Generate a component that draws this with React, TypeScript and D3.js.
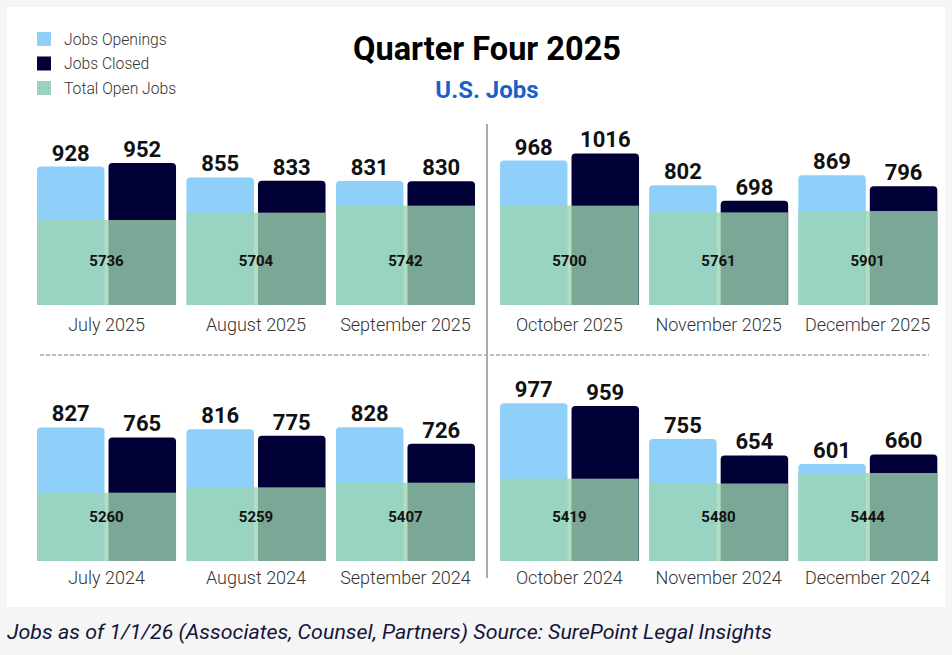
import React from "react";
import * as d3 from "d3";

// Quarter Four 2025 (top row) vs same months 2024 (bottom row)
const months2025 = ["July 2025", "August 2025", "September 2025", "October 2025", "November 2025", "December 2025"];
const openings2025 = [928, 855, 831, 968, 802, 869];
const closed2025 = [952, 833, 830, 1016, 698, 796];
const totalOpen2025 = [5736, 5704, 5742, 5700, 5761, 5901];
// height of the green "Total Open Jobs" band, in bar units (not to scale with its label)
const band2025 = [570, 619, 666, 666, 621, 630];

const months2024 = ["July 2024", "August 2024", "September 2024", "October 2024", "November 2024", "December 2024"];
const openings2024 = [827, 816, 828, 977, 755, 601];
const closed2024 = [765, 775, 726, 959, 654, 660];
const totalOpen2024 = [5260, 5259, 5407, 5419, 5480, 5444];
const band2024 = [423, 456, 485, 510, 480, 545];

const legendItems = ["Jobs Openings", "Jobs Closed", "Total Open Jobs"];

const W = 952;
const H = 655;
const FONT = "Roboto, 'Noto Sans', sans-serif";
const C_OPEN = "#8ed0fa";
const C_CLOSED = "#000036";
const C_GREEN = "#9cd4b2";
const C_LEGEND_GREEN = "#9ad3c0";

const xLeft = d3.scaleBand<number>().domain([0, 1, 2]).range([37, 475]).paddingInner(0.07);
const xRight = d3.scaleBand<number>().domain([3, 4, 5]).range([500, 937]).paddingInner(0.07);
const inner = d3
  .scaleBand<string>()
  .domain(["open", "closed"])
  .range([0, xLeft.bandwidth()])
  .paddingInner(0.056);

function topRounded(x: number, y: number, w: number, h: number, r: number) {
  const rr = Math.min(r, h, w / 2);
  return `M${x},${y + h}V${y + rr}Q${x},${y} ${x + rr},${y}H${x + w - rr}Q${x + w},${y} ${x + w},${y + rr}V${y + h}Z`;
}

function Row({ months, openings, closed, totals, band, base, k, labelY }: any) {
  const y = d3.scaleLinear().domain([0, 1000]).range([base, base - 1000 * k]);
  return (
    <g>
      {months.map((m: string, i: number) => {
        const x = i < 3 ? xLeft : xRight;
        const gx = x(i) as number;
        const bw = inner.bandwidth();
        const ox = gx + (inner("open") as number);
        const cx = gx + (inner("closed") as number);
        const mid = gx + x.bandwidth() / 2;
        return (
          <g key={m}>
            <path d={topRounded(ox, y(openings[i]), bw, base - y(openings[i]), 4)} fill={C_OPEN} />
            <path d={topRounded(cx, y(closed[i]), bw, base - y(closed[i]), 4)} fill={C_CLOSED} />
            <rect
              x={gx}
              y={y(band[i])}
              width={x.bandwidth()}
              height={base - y(band[i])}
              fill={C_GREEN}
              fillOpacity={0.79}
            />
            <text x={ox + bw / 2} y={y(openings[i]) - 6} textAnchor="middle" fontSize={22} fontWeight={700} fill="#111">
              {openings[i]}
            </text>
            <text x={cx + bw / 2} y={y(closed[i]) - 6} textAnchor="middle" fontSize={22} fontWeight={700} fill="#111">
              {closed[i]}
            </text>
            <text x={mid} y={base - 39} textAnchor="middle" fontSize={15} fontWeight={700} fill="#111">
              {totals[i]}
            </text>
            <text x={mid} y={labelY} textAnchor="middle" fontSize={18} fontWeight={300} fill="#333">
              {m}
            </text>
          </g>
        );
      })}
    </g>
  );
}

export default function App() {
  return (
    <svg
      width={W}
      height={H}
      style={{ position: "absolute", left: 0, top: 0, fontFamily: FONT }}
    >
      <rect x={0} y={0} width={W} height={H} fill="#f5f5f5" />
      <rect x={7} y={7} width={938} height={600} fill="#ffffff" />

      {legendItems.map((d, i) => (
        <g key={d} transform={`translate(37,${32 + i * 24.5})`}>
          <rect width={14} height={14} fill={[C_OPEN, C_CLOSED, C_LEGEND_GREEN][i]} />
          <text x={27} y={12.5} fontSize={15.7} fontWeight={300} fill="#333">
            {d}
          </text>
        </g>
      ))}

      <text x={487} y={60} textAnchor="middle" fontSize={32.5} fontWeight={700} fill="#000">
        Quarter Four 2025
      </text>
      <text x={487} y={98} textAnchor="middle" fontSize={24} fontWeight={700} fill="#1c5fcb">
        U.S. Jobs
      </text>

      <line x1={487} x2={487} y1={124} y2={578} stroke="#aaa" strokeWidth={2} />
      <line x1={40} x2={929} y1={355} y2={355} stroke="#aaa" strokeWidth={1.5} strokeDasharray="4 2" />

      <Row
        months={months2025}
        openings={openings2025}
        closed={closed2025}
        totals={totalOpen2025}
        band={band2025}
        base={305}
        k={0.1492}
        labelY={331}
      />
      <Row
        months={months2024}
        openings={openings2024}
        closed={closed2024}
        totals={totalOpen2024}
        band={band2024}
        base={561}
        k={0.1615}
        labelY={584}
      />

      <text
        x={7}
        y={639}
        fontSize={19.5}
        fontStyle="italic"
        fill="#14143a"
        textLength={765}
        lengthAdjust="spacingAndGlyphs"
      >
        Jobs as of 1/1/26 (Associates, Counsel, Partners) Source: SurePoint Legal Insights
      </text>
    </svg>
  );
}
